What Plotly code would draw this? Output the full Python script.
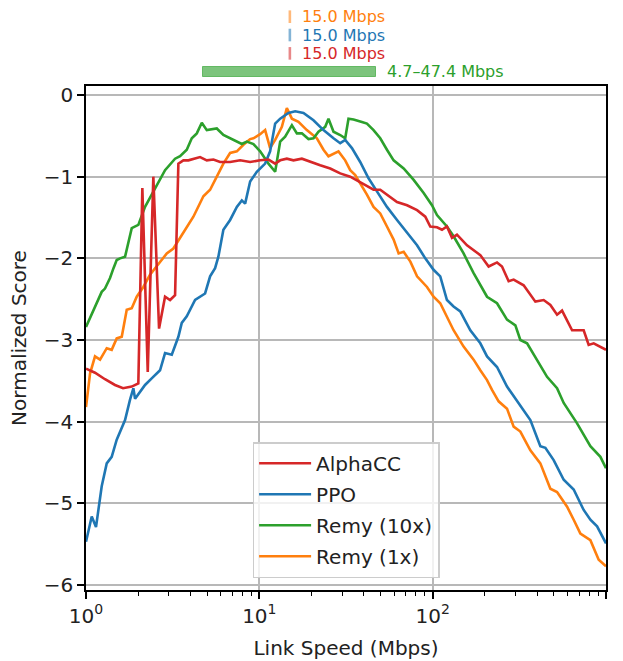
import numpy as np
import plotly.graph_objects as go

# ---------------- data ----------------
alphacc_x = [1.000, 1.127, 1.287, 1.470, 1.636, 1.836, 2.004, 2.114, 2.271, 2.446, 2.639,
             2.858, 3.055, 3.265, 3.411, 3.646, 3.897, 4.164, 4.551, 4.976, 5.433, 5.937,
             6.783, 7.748, 8.850, 10.11, 11.29, 12.34, 13.19, 14.41, 15.74, 17.60, 19.65,
             22.44, 25.64, 29.28, 33.44, 37.35, 41.76, 45.59, 49.84, 54.49, 62.28, 71.17,
             81.28, 90.65, 96.85, 105.9, 113.2, 120.9, 129.3, 138.1, 157.8, 188.3, 210.3,
             235.1, 251.2, 274.3, 293.2, 334.9, 391.2, 436.9, 477.5, 522.0, 557.8, 637.3,
             743.4, 794.5, 849.1, 1000.0]
alphacc_y = [-3.35, -3.40, -3.48, -3.55, -3.59, -3.57, -3.53, -1.14, -3.39, -1.00, -2.86,
             -2.47, -2.51, -2.45, -0.84, -0.80, -0.80, -0.78, -0.76, -0.80, -0.79, -0.82,
             -0.82, -0.80, -0.82, -0.80, -0.79, -0.84, -0.80, -0.78, -0.80, -0.78, -0.82,
             -0.86, -0.90, -0.96, -1.00, -1.06, -1.12, -1.16, -1.16, -1.22, -1.31, -1.35,
             -1.41, -1.49, -1.61, -1.62, -1.65, -1.61, -1.75, -1.71, -1.84, -1.96, -2.10,
             -2.05, -2.10, -2.28, -2.26, -2.33, -2.53, -2.51, -2.57, -2.69, -2.64, -2.88,
             -2.88, -3.06, -3.04, -3.12]

ppo_x = [1.000, 1.079, 1.142, 1.232, 1.317, 1.407, 1.504, 1.680, 1.795, 1.876, 1.919,
         2.191, 2.394, 2.674, 2.858, 3.125, 3.411, 3.569, 3.814, 4.259, 4.865, 5.200,
         5.556, 5.804, 6.203, 6.783, 7.417, 7.925, 8.280, 8.850, 9.672, 10.80, 11.54,
         12.34, 13.19, 14.72, 16.10, 17.97, 20.53, 23.45, 26.79, 29.28, 31.29, 34.21,
         38.19, 42.66, 47.70, 54.49, 62.28, 71.17, 81.28, 90.65, 101.2, 110.6, 115.6,
         120.9, 132.0, 144.3, 164.9, 188.3, 205.9, 235.1, 268.5, 320.5, 366.1, 418.0,
         446.8, 498.9, 570.1, 651.0, 743.4, 812.6, 888.3, 1000.0]
ppo_y = [-5.47, -5.16, -5.29, -4.79, -4.51, -4.43, -4.22, -3.98, -3.73, -3.59, -3.72,
         -3.55, -3.47, -3.37, -3.16, -3.18, -2.96, -2.79, -2.71, -2.51, -2.43, -2.22,
         -2.12, -1.98, -1.65, -1.53, -1.37, -1.29, -1.33, -1.06, -0.94, -0.84, -0.69,
         -0.35, -0.29, -0.22, -0.20, -0.22, -0.31, -0.43, -0.53, -0.59, -0.55, -0.65,
         -0.82, -1.02, -1.18, -1.37, -1.53, -1.69, -1.84, -2.00, -2.14, -2.22, -2.35,
         -2.51, -2.59, -2.65, -2.88, -3.04, -3.20, -3.33, -3.57, -3.81, -3.98, -4.30,
         -4.32, -4.47, -4.71, -4.83, -5.08, -5.20, -5.28, -5.49]

remy10_x = [1.000, 1.102, 1.153, 1.232, 1.287, 1.376, 1.441, 1.504, 1.572, 1.680, 1.836,
            2.004, 2.191, 2.502, 2.858, 3.265, 3.489, 3.814, 4.076, 4.356, 4.656, 4.976,
            5.682, 6.203, 7.088, 7.925, 8.469, 9.246, 10.11, 11.29, 12.34, 13.19, 14.09,
            15.41, 16.47, 17.60, 19.21, 20.53, 21.94, 23.99, 25.06, 26.79, 29.28, 31.29,
            32.69, 34.95, 39.06, 41.76, 45.59, 49.84, 54.49, 59.53, 68.02, 77.68, 88.72,
            99.08, 105.9, 120.9, 132.0, 150.8, 172.3, 205.9, 235.1, 268.5, 300.0, 320.5,
            350.4, 400.1, 457.0, 522.0, 570.1, 680.9, 812.6, 928.3, 1000.0]
remy10_y = [-2.84, -2.63, -2.53, -2.41, -2.37, -2.24, -2.12, -2.02, -2.00, -1.98, -1.63,
            -1.59, -1.37, -1.14, -0.92, -0.78, -0.75, -0.67, -0.53, -0.47, -0.34, -0.43,
            -0.41, -0.49, -0.55, -0.60, -0.57, -0.60, -0.69, -0.84, -0.94, -0.57, -0.51,
            -0.37, -0.47, -0.47, -0.54, -0.53, -0.45, -0.39, -0.29, -0.45, -0.49, -0.53,
            -0.29, -0.30, -0.33, -0.35, -0.43, -0.53, -0.67, -0.80, -0.90, -1.04, -1.20,
            -1.35, -1.47, -1.61, -1.73, -1.94, -2.18, -2.47, -2.55, -2.75, -2.82, -3.00,
            -3.04, -3.24, -3.45, -3.59, -3.77, -4.02, -4.30, -4.43, -4.57]

remy1_x = [1.000, 1.055, 1.127, 1.205, 1.317, 1.407, 1.504, 1.608, 1.718, 1.836, 1.962,
           2.142, 2.341, 2.559, 2.924, 3.192, 3.646, 4.164, 4.756, 5.200, 5.682, 6.203,
           6.783, 7.417, 8.095, 8.850, 9.246, 10.11, 10.80, 11.54, 12.34, 13.49, 14.41,
           15.41, 16.82, 18.80, 21.48, 23.45, 25.06, 28.62, 31.29, 33.44, 35.75, 38.19,
           41.76, 45.59, 49.84, 54.49, 59.53, 63.63, 68.02, 74.35, 81.28, 92.72, 101.2,
           110.6, 120.9, 132.0, 150.8, 172.3, 188.3, 205.9, 220.0, 240.1, 268.5, 293.2,
           320.5, 366.1, 418.0, 477.5, 522.0, 596.4, 651.0, 711.5, 812.6, 907.4, 1000.0]
remy1_y = [-3.82, -3.41, -3.20, -3.24, -3.10, -3.12, -2.98, -2.96, -2.63, -2.61, -2.47,
           -2.35, -2.20, -2.10, -1.94, -1.88, -1.69, -1.49, -1.24, -1.16, -1.00, -0.84,
           -0.71, -0.69, -0.61, -0.54, -0.53, -0.48, -0.43, -0.65, -0.55, -0.39, -0.16,
           -0.29, -0.33, -0.43, -0.53, -0.67, -0.75, -0.69, -0.80, -0.92, -0.98, -1.08,
           -1.22, -1.37, -1.45, -1.61, -1.77, -1.94, -1.92, -2.04, -2.22, -2.35, -2.47,
           -2.55, -2.71, -2.88, -3.08, -3.24, -3.37, -3.49, -3.61, -3.75, -3.84, -4.06,
           -4.12, -4.35, -4.51, -4.82, -4.86, -5.04, -5.20, -5.37, -5.45, -5.69, -5.77]

# near-optimal link-speed ranges shown above the axes
range_names = ["Remy (1x)", "PPO", "AlphaCC", "Remy (10x)"]
range_lo = [15.0, 15.0, 15.0, 4.7]
range_hi = [15.0, 15.0, 15.0, 47.4]

y_ticks = [0, -1, -2, -3, -4, -5, -6]
x_ticks = [1, 10, 100, 1000]
x_ticktext = ["10<sup>0</sup>", "10<sup>1</sup>", "10<sup>2</sup>", "10<sup>3</sup>"]

# ---------------- styling ----------------
colors = {"AlphaCC": "#d62728", "PPO": "#1f77b4", "Remy (10x)": "#2ca02c", "Remy (1x)": "#ff7f0e"}
faint = {"AlphaCC": "rgba(214,39,40,0.55)", "PPO": "rgba(31,119,180,0.55)",
         "Remy (10x)": "rgba(44,160,44,0.62)", "Remy (1x)": "rgba(255,127,14,0.55)"}
FONT = "DejaVu Sans"

series = [
    ("Remy (1x)", remy1_x, remy1_y, 4),
    ("Remy (10x)", remy10_x, remy10_y, 3),
    ("PPO", ppo_x, ppo_y, 2),
    ("AlphaCC", alphacc_x, alphacc_y, 1),
]

fig = go.Figure()
for name, xs, ys, rank in series:
    fig.add_trace(go.Scatter(
        x=xs, y=ys, mode="lines", name=name, legendrank=rank, legendgroup=name,
        line=dict(color=colors[name], width=2.6),
        xaxis="x", yaxis="y",
    ))

# rows above the plot (bottom to top)
row_order = ["Remy (10x)", "AlphaCC", "PPO", "Remy (1x)"]
annotations = []
for name, lo, hi in zip(range_names, range_lo, range_hi):
    if hi > lo:
        fig.add_trace(go.Bar(
            x=[hi - lo], base=[lo], y=[name], orientation="h", width=0.55,
            marker=dict(color=faint[name], line=dict(color=faint[name], width=1)),
            xaxis="x2", yaxis="y2", showlegend=False, hoverinfo="skip",
        ))
        label = f"{lo:.1f}\u2013{hi:.1f} Mbps"
        shift = 9
    else:
        fig.add_trace(go.Scatter(
            x=[lo], y=[name], mode="markers",
            marker=dict(symbol="line-ns", size=9, line=dict(color=faint[name], width=2.6)),
            xaxis="x2", yaxis="y2", showlegend=False, hoverinfo="skip",
        ))
        label = f"{lo:.1f} Mbps"
        shift = 10
    annotations.append(dict(
        x=np.log10(hi), y=row_order.index(name), xref="x2", yref="y2",
        text=label, showarrow=False, xanchor="left", yanchor="middle", xshift=shift,
        font=dict(family=FONT, size=16, color=colors[name]),
    ))

main_top = 504 / 590

axis_common = dict(
    showline=True, linecolor="black", linewidth=1.6, mirror=True,
    ticks="outside", ticklen=7, tickwidth=1.6, tickcolor="black",
    showgrid=True, gridcolor="#b8b8b8", gridwidth=1.5, zeroline=False,
    tickfont=dict(family=FONT, size=20, color="#222"),
    automargin=False,
)

fig.update_layout(
    width=623, height=661,
    margin=dict(l=86, r=17, t=0, b=71),
    paper_bgcolor="white", plot_bgcolor="white",
    font=dict(family=FONT, size=20, color="#222"),
    xaxis=dict(
        type="log", range=[0, 3], tickmode="array", tickvals=x_ticks, ticktext=x_ticktext,
        anchor="y", domain=[0, 1],
        minor=dict(tickmode="array",
                   tickvals=[m * 10 ** d for d in range(3) for m in range(2, 10)],
                   ticks="outside", ticklen=4, tickwidth=1.2, tickcolor="black", showgrid=False),
        title=dict(text="Link Speed (Mbps)", font=dict(family=FONT, size=20, color="#222"), standoff=14),
        **axis_common,
    ),
    yaxis=dict(
        range=[-6.06, 0.11], tickmode="array", tickvals=y_ticks,
        domain=[0, main_top], anchor="x",
        title=dict(text="Normalized Score", font=dict(family=FONT, size=20, color="#222"), standoff=12),
        **axis_common,
    ),
    xaxis2=dict(type="log", matches="x", anchor="y2", domain=[0, 1], visible=False, showgrid=False),
    yaxis2=dict(type="category", categoryorder="array", categoryarray=row_order,
                range=[-0.78, 3.91], domain=[main_top, 1], anchor="x2",
                visible=False, showgrid=False),
    legend=dict(
        x=0.5, xanchor="center", y=0.02, yanchor="bottom",
        bgcolor="rgba(255,255,255,0.8)", bordercolor="#cccccc", borderwidth=1.6,
        font=dict(family=FONT, size=20, color="#222"),
        traceorder="grouped", tracegroupgap=2, itemwidth=52,
    ),
    annotations=annotations,
    showlegend=True,
    bargap=0,
)

fig.write_html(
    "out.html",
    config={"displayModeBar": False},
    post_script="document.body.style.margin='0';document.body.style.padding='0';",
)
